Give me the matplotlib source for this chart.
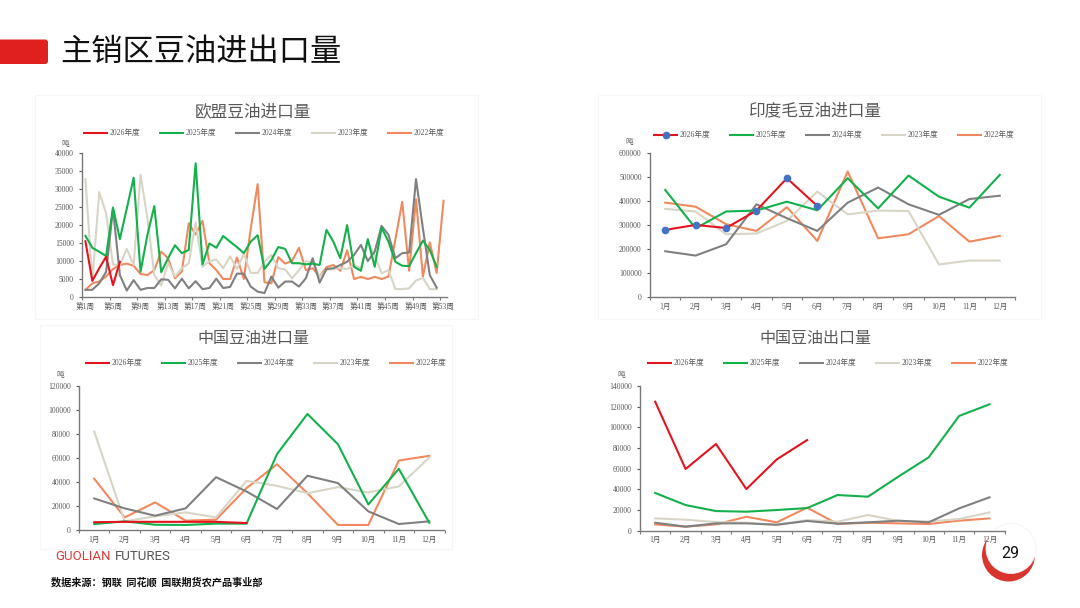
import numpy as np
import matplotlib
matplotlib.use("Agg")
import matplotlib.pyplot as plt
from matplotlib.patches import FancyBboxPatch, Circle, Rectangle

plt.rcParams["font.family"] = ["Liberation Serif", "Noto Sans CJK SC"]
CJK = ["Noto Sans CJK SC", "DejaVu Sans"]

# ---- data ----
YEARS = ["2026年度", "2025年度", "2024年度", "2023年度", "2022年度"]
COLORS = ["#E3141E", "#14B04C", "#808080", "#D8D5C6", "#F0895F"]
MONTHS = [f"{m}月" for m in range(1, 13)]
WEEK_LABELS = [f"第{w}周" for w in range(1, 54, 4)]

eu_2026 = [15500, 4500, 8000, 11200, 3300, 9800]
eu_2025 = [17000, 13700, 12600, 11400, 24900, 16100, 24600, 33200, 7000, 17300,
           25300, 6900, 10800, 14400, 12200, 13100, 37200, 9100, 14900, 13700,
           17000, 15400, 13900, 12200, 15400, 17200, 7800, 10300, 13900, 13400,
           9400, 9400, 9100, 9300, 8900, 18700, 15400, 10800, 20000, 8400,
           7300, 16100, 8400, 19300, 15400, 9800, 8700, 8600, 12200, 15700,
           13100, 8400]
eu_2024 = [2000, 2000, 3800, 7000, 24500, 6100, 1800, 4700, 2000, 2500,
           2500, 4900, 4800, 2400, 5100, 2400, 4400, 2200, 2500, 5100,
           2500, 2800, 6500, 6500, 2900, 1500, 1100, 5700, 2600, 4300,
           4300, 2900, 5200, 10800, 4000, 7800, 8000, 8900, 9800, 11700,
           14500, 10000, 12600, 19800, 17300, 10800, 12200, 12400, 32800, 19100,
           6100, 2600]
eu_2023 = [32800, 4300, 29200, 23300, 9000, 8900, 13400, 8900, 34000, 21900,
           6100, 3200, 9400, 5700, 8000, 9400, 20800, 8400, 10000, 10400,
           8000, 11300, 7800, 12000, 6700, 6700, 9800, 11700, 8000, 7700,
           5200, 7500, 10000, 9600, 5700, 7500, 7800, 8000, 7800, 8900,
           8000, 15400, 11700, 6600, 7500, 2200, 2200, 2400, 4600, 5300,
           2200, 2200]
eu_2022 = [2000, 3800, 4300, 5700, 7800, 8900, 9300, 8700, 6400, 6100,
           7500, 12600, 10800, 5200, 7100, 20500, 17400, 21200, 9400, 7500,
           5000, 5000, 11000, 5000, 19000, 31400, 4100, 3800, 11100, 9300,
           10000, 13700, 7500, 8000, 5700, 8300, 8900, 7300, 13000, 5000,
           5600, 5000, 5600, 5000, 5700, 16000, 26500, 7300, 27200, 5700,
           15200, 6700, 26800]

in_2026 = [280000, 301000, 288000, 361000, 496000, 380000]
in_2025 = [447000, 287000, 357000, 361000, 398000, 362000, 496000, 370000, 507000, 419000, 373000, 510000]
in_2024 = [191000, 173000, 220000, 387000, 329000, 276000, 394000, 457000, 387000, 343000, 409000, 423000]
in_2023 = [368000, 357000, 262000, 265000, 318000, 440000, 345000, 361000, 359000, 136000, 152000, 152000]
in_2022 = [394000, 377000, 304000, 276000, 375000, 234000, 524000, 245000, 262000, 338000, 231000, 255000]

cn_imp_2026 = [6500, 6800, 6800, 6800, 6800, 5800]
cn_imp_2025 = [5000, 7200, 4400, 4200, 5300, 5300, 63200, 96700, 71500, 21300, 51000, 6100]
cn_imp_2024 = [26300, 18000, 11900, 18000, 44000, 32100, 17500, 45200, 39100, 15500, 5000, 7200]
cn_imp_2023 = [82000, 7200, 11400, 14700, 10500, 41000, 36800, 30700, 35700, 31300, 36300, 60400]
cn_imp_2022 = [42700, 10500, 23000, 7800, 8600, 34900, 54800, 30700, 4200, 4200, 57900, 61800]

cn_exp_2026 = [124800, 59700, 83900, 40300, 69000, 87700]
cn_exp_2025 = [36500, 24800, 19000, 18400, 20000, 21900, 34500, 32900, 52300, 71000, 111000, 122300]
cn_exp_2024 = [7700, 3900, 7100, 7100, 5800, 9400, 6800, 8100, 9700, 8100, 21600, 32300]
cn_exp_2023 = [11900, 10600, 8400, 7700, 5500, 10300, 8700, 15200, 9400, 9000, 11300, 17700]
cn_exp_2022 = [6100, 3900, 6100, 13500, 8100, 22300, 6500, 7700, 7100, 6500, 9700, 11900]

W, H = 1080, 608
TXT = "#595959"

fig = plt.figure(figsize=(W / 100, H / 100), dpi=100)
deco = fig.add_axes([0, 0, 1, 1])
deco.set_xlim(0, W)
deco.set_ylim(H, 0)
deco.axis("off")


def px_axes(left, top, right, bottom):
    return fig.add_axes([left / W, 1 - bottom / H, (right - left) / W, (bottom - top) / H])


def style(ax, ymax, ystep):
    for s in ["top", "right"]:
        ax.spines[s].set_visible(False)
    for s in ["left", "bottom"]:
        ax.spines[s].set_color("#7a7a7a")
        ax.spines[s].set_linewidth(1.0)
    ax.set_ylim(0, ymax)
    ticks = np.arange(0, ymax + 1, ystep)
    ax.set_yticks(ticks)
    ax.set_yticklabels([str(int(t)) for t in ticks])
    ax.tick_params(axis="both", labelsize=5.5, colors=TXT, length=2.5, width=0.8)
    ax.tick_params(axis="x", which="major", length=0, pad=4)
    ax.tick_params(axis="x", which="minor", length=2.5, width=0.8, color="#7a7a7a")
    ax.set_facecolor("none")


def legend(x0, y, step, marker=False):
    for i, (lab, c) in enumerate(zip(YEARS, COLORS)):
        x = x0 + i * step
        deco.plot([x, x + 25], [y, y], color=c, lw=1.5, solid_capstyle="butt")
        if marker and i == 0:
            deco.plot(x + 12.5, y, "o", ms=4.5, color="#4472C4")
        deco.text(x + 27, y, lab, va="center", ha="left", fontsize=5.5, color=TXT)


def monthly(ax, series, ymax, ystep, marker=False):
    m = np.arange(1, 13)
    for i in range(len(series) - 1, -1, -1):
        d = series[i]
        kw = {}
        if marker and i == 0:
            kw = dict(marker="o", ms=4.5, mfc="#4472C4", mec="#4472C4")
        ax.plot(m[:len(d)], d, color=COLORS[i], lw=1.5, **kw)
    ax.set_xlim(0.5, 12.5)
    ax.set_xticks(m)
    ax.set_xticklabels(MONTHS)
    ax.set_xticks(np.arange(0.5, 13, 1), minor=True)
    style(ax, ymax, ystep)


# ---- header ----
deco.add_patch(FancyBboxPatch((-6, 39.5), 54, 24.5, boxstyle="round,pad=0,rounding_size=3",
                              fc="#E0201F", ec="none"))
deco.text(60, 52, "主销区豆油进出口量", fontsize=22.5, family=CJK, va="center", ha="left", color="#111111")

# panel frames (very faint)
for (x, y, w, h) in [(35, 95, 443, 224), (598, 95, 443, 224), (40, 325, 412, 224)]:
    deco.add_patch(Rectangle((x, y), w, h, fc="white", ec="#f6f6f6", lw=0.8))

# ---- EU weekly imports ----
ax1 = px_axes(82, 153.3, 447, 297)
weeks = np.arange(1, 54)
eu = [eu_2026, eu_2025, eu_2024, eu_2023, eu_2022]
for i in range(len(eu) - 1, -1, -1):
    ax1.plot(weeks[:len(eu[i])], eu[i], color=COLORS[i], lw=1.5)
ax1.set_xlim(0.5, 53.5)
ax1.set_xticks(np.arange(1, 54, 4))
ax1.set_xticklabels(WEEK_LABELS)
ax1.set_xticks(np.arange(0.5, 54, 4), minor=True)
style(ax1, 40000, 5000)
deco.text(253, 112, "欧盟豆油进口量", fontsize=12, family=CJK, ha="center", va="center", color=TXT)
legend(83, 133, 76)
deco.text(65, 144, "吨", fontsize=5.5, ha="center", va="center", color=TXT)

# ---- India monthly imports ----
ax2 = px_axes(650, 153.3, 1015, 297)
monthly(ax2, [in_2026, in_2025, in_2024, in_2023, in_2022], 600000, 100000, marker=True)
deco.text(815, 111, "印度毛豆油进口量", fontsize=12, family=CJK, ha="center", va="center", color=TXT)
legend(653, 135, 76, marker=True)
deco.text(629, 142, "吨", fontsize=5.5, ha="center", va="center", color=TXT)

# ---- China imports ----
ax3 = px_axes(79, 386, 444.5, 530)
monthly(ax3, [cn_imp_2026, cn_imp_2025, cn_imp_2024, cn_imp_2023, cn_imp_2022], 120000, 20000)
deco.text(253, 338, "中国豆油进口量", fontsize=11.5, family=CJK, ha="center", va="center", color=TXT)
legend(85, 363, 76)
deco.text(60, 375, "吨", fontsize=5.5, ha="center", va="center", color=TXT)

# ---- China exports ----
ax4 = px_axes(640, 386, 1004.7, 530.7)
monthly(ax4, [cn_exp_2026, cn_exp_2025, cn_exp_2024, cn_exp_2023, cn_exp_2022], 140000, 20000)
deco.text(815, 338, "中国豆油出口量", fontsize=11.5, family=CJK, ha="center", va="center", color=TXT)
legend(647, 363, 76)
deco.text(621, 375, "吨", fontsize=5.5, ha="center", va="center", color=TXT)

# ---- footer ----
deco.text(111, 557, "GUOLIAN", fontsize=9.5, family=["Roboto", "DejaVu Sans"], color="#E23A3A",
          va="center", ha="right")
deco.text(115, 557, "FUTURES", fontsize=9.5, family=["Roboto", "DejaVu Sans"], color="#555555",
          va="center", ha="left")
deco.text(51, 582, "数据来源：钢联  同花顺  国联期货农产品事业部", fontsize=7.3, family=CJK,
          fontweight="bold", va="center", ha="left", color="#111111")
deco.add_patch(Circle((1008.5, 555), 26.5, fc="#D9352F", ec="none"))
deco.add_patch(Circle((1011, 548.5), 25, fc="white", ec="#f2f2f2", lw=0.6))
deco.text(1010, 554, "29", fontsize=11.5, family=["Roboto", "DejaVu Sans"], ha="center", va="center",
          color="#111111")

fig.savefig("out.png", dpi=100)
